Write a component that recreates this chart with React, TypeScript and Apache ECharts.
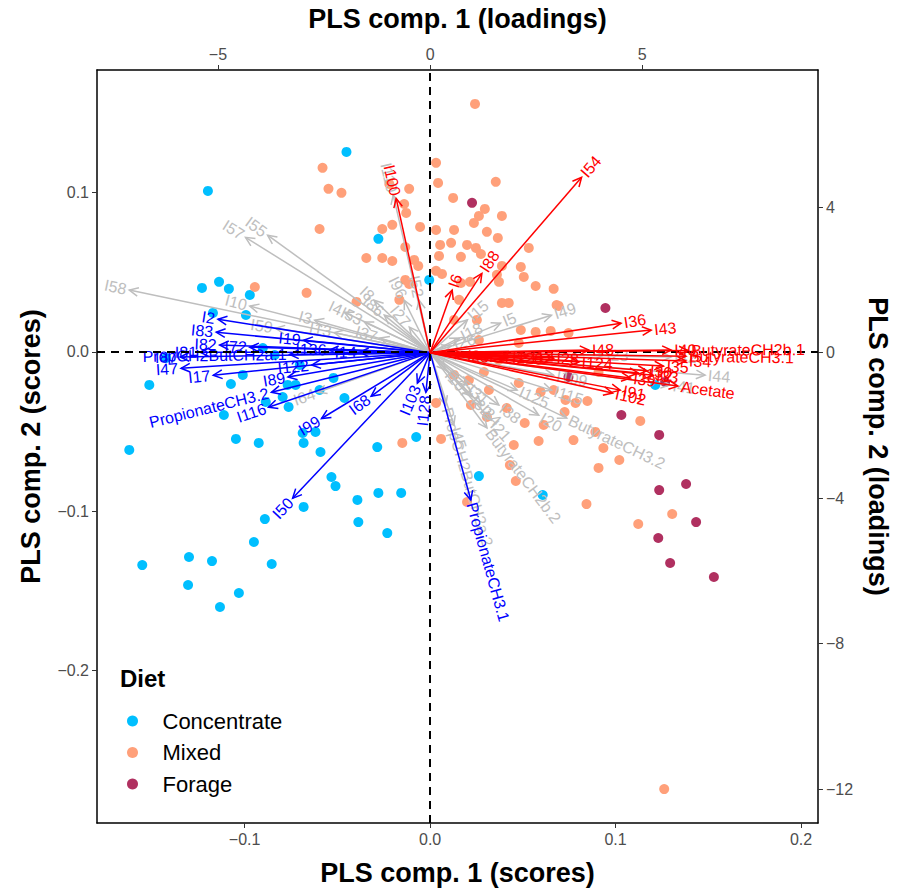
import React, { useEffect, useRef } from 'react';
import * as echarts from 'echarts';

// ---- Scores (samples) ----
const concentrateX = [-0.0451,-0.1198,-0.0279,-0.1230,-0.1138,-0.1085,-0.0972,-0.1171,-0.0993,-0.0902,-0.1514,-0.1423,-0.1074,-0.1010,-0.1112,-0.1047,-0.0924,-0.1622,-0.0886,-0.0795,-0.0768,-0.0725,-0.0763,-0.0687,-0.0682,-0.0618,-0.0591,-0.0521,-0.0532,-0.0510,-0.0285,-0.0392,-0.0279,-0.0156,-0.0682,-0.0891,-0.0387,-0.0231,-0.0950,-0.1552,-0.1300,-0.1176,-0.0854,-0.1305,-0.1031,-0.1133,-0.0075,0.0263,0.0607,-0.0005,0.1214,-0.0838,-0.0703,-0.0596,-0.0462];
const concentrateY = [0.1256,0.1011,0.0710,0.0402,0.0440,0.0396,0.0358,0.0245,0.0232,0.0025,-0.0207,-0.0038,-0.0201,-0.0144,-0.0396,-0.0546,-0.0571,-0.0615,-0.0314,-0.0283,-0.0207,-0.0207,-0.0345,-0.0509,-0.0571,-0.0502,-0.0628,-0.0163,-0.0785,-0.0842,-0.0597,-0.0929,-0.0885,-0.0885,-0.0973,-0.1049,-0.1068,-0.1137,-0.1193,-0.1338,-0.1287,-0.1313,-0.1331,-0.1463,-0.1513,-0.1601,-0.0534,-0.0779,-0.0898,0.0452,-0.0207,-0.0019,-0.0082,-0.0239,-0.0289];

const mixedX = [0.0242,-0.0580,-0.0548,-0.0478,-0.0596,0.0032,0.0043,0.0354,-0.0220,-0.0113,0.0124,0.0295,0.0263,0.0387,0.0236,-0.0140,-0.0129,-0.0258,-0.0204,-0.0054,0.0032,0.0129,0.0306,0.0365,0.0054,0.0113,0.0199,0.0247,0.0274,0.0048,0.0166,-0.0134,-0.0344,-0.0258,-0.0204,-0.0086,-0.0064,0.0032,0.0064,0.0166,0.0360,0.0387,0.0532,0.0489,0.0505,0.0569,0.0666,0.0682,0.0371,0.0387,0.0424,0.0489,-0.0666,-0.0945,-0.0397,-0.0134,-0.0113,0.0252,0.0215,0.0693,0.0569,0.0650,0.0746,0.0478,0.0290,0.0478,0.0596,0.0666,0.0032,0.0317,0.0220,0.0413,0.0730,0.0784,0.0725,0.0848,0.0510,0.0612,0.0585,0.0773,0.0891,0.0934,0.0908,0.1020,0.1133,0.0059,0.0451,0.0430,0.0462,0.0306,0.0199,-0.0150,0.0843,0.1122,0.1305,0.1262,-0.0166,0.0156,0.0129,0.0263,0.0371,0.0129,0.0209,0.0585,0.0908];
const mixedY = [0.1557,0.1156,0.1024,0.0999,0.0772,0.1187,0.1061,0.1068,0.1055,0.1024,0.0967,0.0898,0.0854,0.0854,0.0810,0.0929,0.0873,0.0772,0.0798,0.0785,0.0766,0.0766,0.0754,0.0716,0.0672,0.0685,0.0672,0.0653,0.0615,0.0603,0.0597,0.0659,0.0590,0.0590,0.0571,0.0578,0.0540,0.0509,0.0490,0.0433,0.0484,0.0540,0.0653,0.0534,0.0471,0.0414,0.0396,0.0295,0.0440,0.0308,0.0308,0.0138,0.0371,0.0408,0.0314,0.0452,0.0427,0.0201,0.0440,0.0289,0.0126,0.0132,0.0119,0.0057,-0.0126,-0.0195,-0.0251,-0.0239,-0.0320,-0.0239,-0.0333,-0.0352,-0.0301,-0.0320,-0.0377,-0.0308,-0.0446,-0.0458,-0.0559,-0.0553,-0.0502,-0.0603,-0.0728,-0.0678,-0.0433,-0.0546,-0.0584,-0.0710,-0.0810,-0.0408,-0.0942,-0.0571,-0.0955,-0.1080,-0.1017,-0.2744,0.0327,0.0327,0.0201,0.0075,-0.0050,-0.0144,-0.0176,-0.0050,-0.0126];

const forageX = [0.0226,0.0945,0.0746,0.1031,0.1235,0.1267,0.1380,0.1235,0.1434,0.1230,0.1294,0.1530];
const forageY = [0.0936,0.0276,-0.0157,-0.0396,-0.0521,-0.0188,-0.0829,-0.0867,-0.1068,-0.1168,-0.1325,-0.1413];

// ---- Loadings (variables) ----
const grayNames = ['I58','I55','I57','I110','I10','I59','I3','I4','I53','I86','I8','I96','I52','I64','I49','I5','I18','I26','I42','I23','I44','I41','I109','I115','I125','I20','I38','I24','I21','ButyrateCH2b.2','ButyrateCH3.2','I45','PropCH2ButCH2a.2','I107','I13','I15','I27','I31','I32','I37'];
const grayX = [-7.09,-3.83,-4.35,-0.87,-4.25,-3.64,-2.72,-2.02,-1.55,-1.08,-1.32,-0.61,-0.26,-2.65,2.86,1.66,0.68,0.49,5.68,4.08,6.48,5.65,2.91,2.86,2.05,2.56,1.62,1.20,1.44,1.34,3.22,0.56,0.37,0.37,-2.26,0.88,-0.49,0.88,0.98,-1.18];
const grayY = [1.72,3.23,3.17,4.33,1.28,0.67,0.89,1.11,0.84,1.03,1.44,1.44,1.44,-1.09,1.03,0.81,0.40,0.18,-0.12,-0.07,-0.62,-0.89,-0.62,-1.03,-1.03,-1.72,-1.44,-1.44,-1.86,-2.07,-1.80,-1.99,-1.44,-0.48,0.55,0.90,0.70,-0.90,-1.20,0.40];

const blueNames = ['I2','I83','I82','I72','I81','I87','I47','I17','PropCH2ButCH2a.1','I136','I14','I19','I122','I89','PropionateCH3.2','I116','I99','I68','I50','I103','I128','PropionateCH3.1'];
const blueX = [-5.00,-5.04,-4.96,-4.25,-5.42,-5.89,-5.87,-5.11,-3.31,-2.37,-1.66,-2.98,-2.79,-3.35,-3.74,-3.81,-2.56,-1.39,-3.24,-0.30,-0.10,0.96];
const blueY = [0.92,0.56,0.21,0.15,0.01,-0.12,-0.43,-0.62,-0.05,0.07,0.01,0.34,-0.34,-0.67,-1.09,-1.50,-1.81,-1.20,-4.00,-0.84,-1.09,-4.05];

const redNames = ['I54','I88','I6','I100','I36','I43','I40','ButyrateCH2b.1','ButyrateCH3.1','I34','I35','I33','I132','Acetate','I91','I102','I48','I28','I124','I25','I51','I120','I12','I30','I39'];
const redX = [3.57,1.22,0.52,-0.80,4.50,5.21,5.68,6.08,6.03,6.03,5.50,5.26,4.91,5.84,4.48,4.30,3.74,2.91,3.50,0.80,1.32,1.86,2.32,5.11,4.72];
const redY = [4.82,2.18,1.72,4.24,0.81,0.62,0.07,0.06,-0.10,-0.23,-0.37,-0.62,-0.56,-0.92,-1.03,-1.11,0.07,-0.15,-0.26,-0.07,-0.10,-0.12,-0.10,-0.50,-0.70];

// ---- Axis ticks ----
const scoreXTicks = [-0.1, 0, 0.1, 0.2];
const scoreYTicks = [-0.2, -0.1, 0, 0.1];
const loadXTicks = [-5, 0, 5];
const loadYTicks = [-12, -8, -4, 0, 4];

const FONT = '"Liberation Sans", Arial, Helvetica, sans-serif';

function zip(xs: number[], ys: number[]) {
  return xs.map((x, i) => [x, ys[i]]);
}

function arrowSeries(names: string[], xs: number[], ys: number[], color: string, z: number) {
  return {
    type: 'custom',
    xAxisIndex: 1,
    yAxisIndex: 1,
    z,
    silent: true,
    clip: false,
    data: zip(xs, ys),
    encode: { x: 0, y: 1 },
    renderItem: (params: any, api: any) => {
      const i = params.dataIndex;
      const o = api.coord([0, 0]);
      const p = api.coord([api.value(0), api.value(1)]);
      const dx = p[0] - o[0];
      const dy = p[1] - o[1];
      const len = Math.hypot(dx, dy) || 1;
      const ux = dx / len;
      const uy = dy / len;
      const ang = Math.atan2(dy, dx);
      const ah = 10;
      const aa = Math.PI / 7;
      const h1 = [p[0] - ah * Math.cos(ang - aa), p[1] - ah * Math.sin(ang - aa)];
      const h2 = [p[0] - ah * Math.cos(ang + aa), p[1] - ah * Math.sin(ang + aa)];
      let rot = -ang;
      let align = 'left';
      if (dx < 0) {
        rot = rot > 0 ? rot - Math.PI : rot + Math.PI;
        align = 'right';
      }
      return {
        type: 'group',
        children: [
          { type: 'line', shape: { x1: o[0], y1: o[1], x2: p[0], y2: p[1] }, style: { stroke: color, lineWidth: 1.5 } },
          { type: 'polyline', shape: { points: [h1, p, h2] }, style: { stroke: color, fill: 'none', lineWidth: 1.5 } },
          {
            type: 'text',
            x: p[0] + ux * 3,
            y: p[1] + uy * 3,
            rotation: rot,
            style: { text: names[i], fill: color, font: '16px ' + FONT, align, verticalAlign: 'middle' },
          },
        ],
      };
    },
  };
}

const minus = (s: string) => s.replace('-', '\u2212');

export default function App() {
  const ref = useRef<HTMLDivElement>(null);
  useEffect(() => {
    if (!ref.current) return;
    const chart = echarts.init(ref.current, undefined, { renderer: 'svg' });
    const axisLine = { show: true, onZero: false, lineStyle: { color: '#000', width: 1.5 } };
    const nameStyle = { fontSize: 27, fontWeight: 'bold', color: '#000', fontFamily: FONT };
    const lblStyle = { color: '#4D4D4D', fontSize: 16, fontFamily: FONT };
    const option: any = {
      animation: false,
      backgroundColor: '#fff',
      grid: { left: 97, right: 79, top: 70, bottom: 71, containLabel: false },
      xAxis: [
        {
          type: 'value', position: 'bottom', min: -0.1796, max: 0.2091,
          axisLine, splitLine: { show: false },
          axisTick: { show: true, customValues: scoreXTicks, length: 5, lineStyle: { color: '#333' } },
          axisLabel: { ...lblStyle, customValues: scoreXTicks, margin: 8, formatter: (v: number) => minus(v.toFixed(1)) },
          name: 'PLS comp. 1 (scores)', nameLocation: 'middle', nameGap: 36, nameTextStyle: nameStyle,
        },
        {
          type: 'value', position: 'top', min: -7.85, max: 9.14,
          axisLine, splitLine: { show: false },
          axisTick: { show: true, customValues: loadXTicks, length: 5, lineStyle: { color: '#333' } },
          axisLabel: { ...lblStyle, customValues: loadXTicks, margin: 8, formatter: (v: number) => minus(String(v)) },
          name: 'PLS comp. 1 (loadings)', nameLocation: 'middle', nameGap: 38, nameTextStyle: nameStyle,
        },
      ],
      yAxis: [
        {
          type: 'value', position: 'left', min: -0.2957, max: 0.177,
          axisLine, splitLine: { show: false },
          axisTick: { show: true, customValues: scoreYTicks, length: 5, lineStyle: { color: '#333' } },
          axisLabel: { ...lblStyle, customValues: scoreYTicks, margin: 8, formatter: (v: number) => minus(v.toFixed(1)) },
          name: 'PLS comp. 2 (scores)', nameLocation: 'middle', nameGap: 53, nameTextStyle: nameStyle,
        },
        {
          type: 'value', position: 'right', min: -12.93, max: 7.77,
          axisLine, splitLine: { show: false },
          axisTick: { show: true, customValues: loadYTicks, length: 5, lineStyle: { color: '#333' } },
          axisLabel: { ...lblStyle, customValues: loadYTicks, margin: 8, formatter: (v: number) => minus(String(v)) },
          name: 'PLS comp. 2 (loadings)', nameLocation: 'middle', nameGap: 44, nameRotate: -90, nameTextStyle: nameStyle,
        },
      ],
      legend: {
        data: ['Concentrate', 'Mixed', 'Forage'],
        orient: 'vertical', left: 122, top: 705,
        icon: 'circle', itemWidth: 24, itemHeight: 11, itemGap: 9.5,
        textStyle: { fontSize: 22, color: '#000', fontFamily: FONT, padding: [0, 0, 0, 13], lineHeight: 22 },
      },
      graphic: [
        { type: 'text', left: 120, top: 666, style: { text: 'Diet', font: 'bold 24px ' + FONT, fill: '#000' } },
      ],
      series: [
        { name: 'Concentrate', type: 'scatter', xAxisIndex: 0, yAxisIndex: 0, symbol: 'circle', symbolSize: 10, itemStyle: { color: '#00BFFF', opacity: 1 }, data: zip(concentrateX, concentrateY), z: 2 },
        { name: 'Mixed', type: 'scatter', xAxisIndex: 0, yAxisIndex: 0, symbol: 'circle', symbolSize: 10, itemStyle: { color: '#FFA07A', opacity: 1 }, data: zip(mixedX, mixedY), z: 2 },
        {
          name: 'Forage', type: 'scatter', xAxisIndex: 0, yAxisIndex: 0, symbol: 'circle', symbolSize: 10, itemStyle: { color: '#B03060', opacity: 1 }, data: zip(forageX, forageY), z: 2,
          markLine: {
            silent: true, symbol: ['none', 'none'], label: { show: false },
            lineStyle: { color: '#000', type: [8, 6], width: 2 },
            data: [{ xAxis: 0 }, { yAxis: 0 }],
          },
        },
        arrowSeries(grayNames, grayX, grayY, '#BEBEBE', 3),
        arrowSeries(blueNames, blueX, blueY, '#0000FF', 4),
        arrowSeries(redNames, redX, redY, '#FF0000', 5),
      ],
    };
    chart.setOption(option);
    return () => chart.dispose();
  }, []);
  return <div ref={ref} style={{ position: 'fixed', left: 0, top: 0, width: 899, height: 894, background: '#fff' }} />;
}
